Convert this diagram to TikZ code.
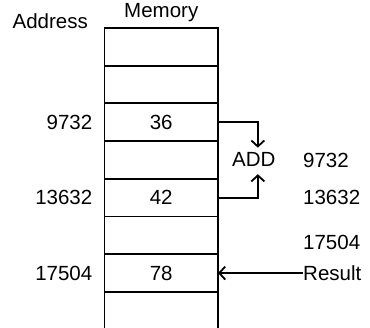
\documentclass[tikz,border=0pt]{standalone}
\usepackage{fontspec}
\setmainfont{Liberation Sans}
\usetikzlibrary{positioning,arrows.meta}
\tikzset{
  cell/.style={draw,line width=1.8pt,minimum width=113.5pt,minimum height=37.7pt,
    inner sep=0pt,outer sep=0pt,font=\fontsize{20.5}{24}\selectfont},
  lbl/.style={inner sep=0pt,font=\fontsize{20.5}{24}\selectfont},
  wire/.style={line width=1.8pt},
  arr/.style={-{Straight Barb[length=6pt,width=13pt]},line width=1.8pt}
}

\begin{document}
\begin{tikzpicture}
  \useasboundingbox (0pt,0pt) rectangle (370pt,-328pt);
  % memory column
  \node[cell] (c1) at (161.25pt,-46.85pt) {};
  \node[cell,below=0pt of c1] (c2) {};
  \node[cell,below=0pt of c2] (c3) {36};
  \node[cell,below=0pt of c3] (c4) {};
  \node[cell,below=0pt of c4] (c5) {42};
  \node[cell,below=0pt of c5] (c6) {};
  \node[cell,below=0pt of c6] (c7) {78};
  \draw[wire] (c7.south west) -- ++(0,-40pt);
  \draw[wire] (c7.south east) -- ++(0,-40pt);

  \node[lbl,anchor=base] (mem) at ([yshift=10pt]c1.north) {Memory};
  \node[lbl,anchor=base east] (addr) at ([xshift=-16.5pt,yshift=-1pt]c1.north west) {Address};

  \node[lbl,left=12pt of c3] (a1) {9732};
  \node[lbl,left=12pt of c5] (a2) {13632};
  \node[lbl,left=12pt of c7] (a3) {17504};

  % add operation
  \node[lbl,right=14pt of c4] (add) {ADD};
  \draw[arr] (c3.east) -| ([xshift=4pt,yshift=5pt]add.north);
  \draw[arr] (c5.east) -| ([xshift=4pt,yshift=-7pt]add.south);

  \node[lbl,right=85pt of c4] (r1) {9732};
  \node[lbl,right=85pt of c5] (r2) {13632};
  \node[lbl,right=85pt of c7] (res) {Result};
  \node[lbl,anchor=south west] (r3) at ([yshift=15pt]res.north west) {17504};
  \draw[arr] (res) -- (c7.east);
\end{tikzpicture}
\end{document}
